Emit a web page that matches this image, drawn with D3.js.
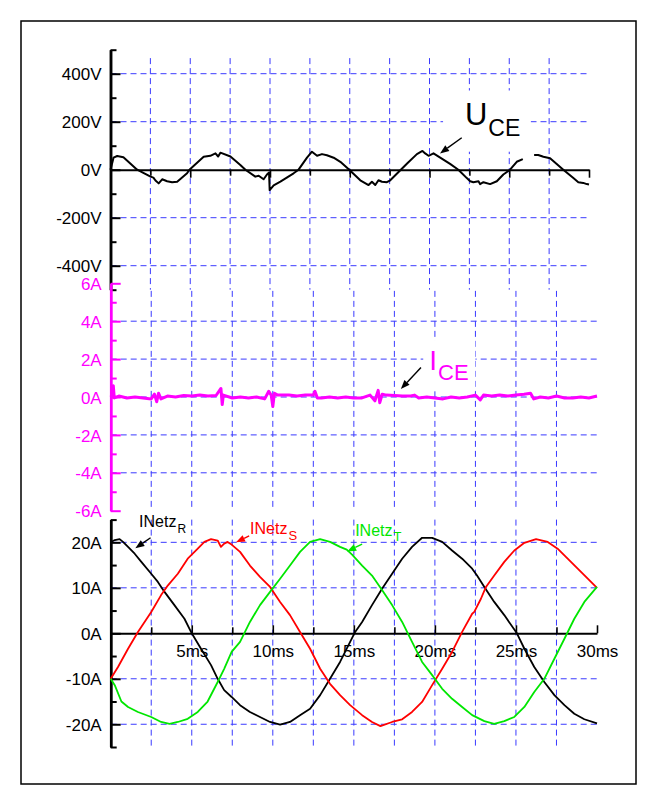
<!DOCTYPE html>
<html>
<head>
<meta charset="utf-8">
<script src="https://cdn.jsdelivr.net/npm/d3@7"></script>
<style>
  body { margin: 0; background: #fff; }
  svg { display: block; }
  text { font-family: "Liberation Sans", Arial, Helvetica, sans-serif; }
</style>
</head>
<body>
<svg id="chart" width="656" height="806"></svg>
<script>
// ---- Data -------------------------------------------------------------
// Grid / tick positions along the time axis (ms)
const gridTimes = [2.5, 5, 7.5, 10, 12.5, 15, 17.5, 20, 22.5, 25, 27.5];
const timeTicks = [0, 2.5, 5, 7.5, 10, 12.5, 15, 17.5, 20, 22.5, 25, 27.5, 30];
const timeLabels = [5, 10, 15, 20, 25, 30];

// Collector-emitter voltage U_CE: time (ms) and value (V); null = gap in trace
const uceTime = [0.0, 0.19, 0.42, 0.81, 1.67, 2.51, 2.69, 2.82, 3.02, 3.24, 3.55, 3.86, 4.18, 4.80, 4.95,
  5.84, 6.26, 6.58, 6.75, 6.89, 7.52, 8.14, 8.46, 9.08, 9.29, 9.60, 9.81, 9.94, 9.98, 10.23, 10.65,
  11.48, 11.79, 12.32, 12.63, 12.95, 13.26, 13.57, 13.99, 14.41, 14.97, 15.66, 16.18, 16.39, 16.60,
  16.80, 17.02, 17.33, 17.54, 18.58, 19.21, 19.56, 19.73, 19.94, 20.25, 21.29, 21.81, 22.34, 22.55,
  22.75, 23.07, 23.17, 23.38, 23.80, 24.22, 24.63, 25.05, 25.47, 25.85, 26.2, 26.56, 26.82, 27.14,
  27.56, 28.39, 29.02, 29.33, 29.64, 29.86, 30.0];
const uceVolt = [0, 50, 57, 52, 0, -29, -33, -45, -57, -40, -48, -52, -50, -15, 0,
  54, 58, 68, 55, 71, 55, 20, 0, -29, -25, -40, -20, -12, -85, -65, -50,
  -15, 0, 50, 75, 58, 65, 60, 50, 33, 0, -44, -64, -50, -64,
  -44, -50, -52, -44, 25, 65, 78, 68, 58, 68, 24, 0, -35, -48,
  -52, -48, -60, -52, -60, -48, -20, 0, 33, 44, null, 61, 61, 54,
  48, 0, -35, -52, -55, -60, -62];

// Collector-emitter current I_CE: time (ms) and value (A)
const iceTime = [0, 0.1, 0.16, 0.22, 0.5, 1.0, 1.5, 2.0, 2.5, 2.7, 2.84, 2.95, 3.1, 3.5, 4.0, 4.5, 5.0,
  5.5, 6.0, 6.5, 6.8, 6.88, 6.95, 7.5, 8.0, 8.5, 9.0, 9.5, 9.75, 9.9, 10.0, 10.1, 10.3, 11, 11.5, 12,
  12.5, 12.6, 12.75, 13.0, 13.5, 14, 14.5, 15.0, 15.5, 16.0, 16.3, 16.5, 16.6, 16.75, 17.0, 17.5, 18,
  18.5, 18.75, 19.0, 19.5, 20, 20.5, 21, 21.5, 22, 22.5, 22.8, 23.0, 23.5, 24, 24.5, 25, 25.5, 25.9,
  26.1, 26.5, 27, 27.5, 28, 28.5, 29, 29.5, 30];
const iceAmp = [0.1, 0.0, 0.6, -0.05, 0.05, -0.05, 0.0, -0.05, -0.1, 0.15, -0.25, 0.2, -0.1, 0.05, 0.0, 0.08, 0.05,
  0.1, 0.05, 0.08, 0.45, -0.4, 0.1, -0.05, 0.0, -0.05, 0.0, -0.1, 0.3, 0.1, -0.5, 0.2, 0.1, 0.1, 0.05, 0.1,
  0.1, 0.3, -0.05, -0.05, 0.0, -0.05, 0.0, -0.05, -0.05, 0.1, -0.2, 0.35, -0.3, 0.15, 0.1, 0.08, 0.05,
  0.05, 0.1, -0.05, 0.0, -0.05, -0.1, 0.0, -0.05, 0.0, 0.1, -0.15, 0.1, 0.05, 0.1, 0.05, 0.1, 0.15, 0.2,
  -0.1, 0.0, -0.05, 0.05, -0.05, -0.05, 0.0, -0.05, 0.05];

// Mains phase currents INetz R / S / T: [time (ms), current (A)]
const netzR = [[0,20.0],[0.25,20.5],[0.55,20.7],[0.76,20.1],[1.07,19.0],[1.48,17.5],[1.89,15.7],[2.5,13.1],
  [2.91,11.3],[3.32,9.1],[3.93,6.2],[4.55,3.2],[5.0,0],[5.57,-3.4],[6.19,-7.0],[6.6,-10],[7.0,-12.5],
  [7.46,-14],[7.98,-15.8],[8.59,-17.3],[9.21,-18.4],[9.83,-19.5],[10.45,-20.1],[11.06,-19.5],[11.68,-18.0],
  [12.3,-16.6],[12.92,-13.6],[13.53,-10],[14.15,-6.3],[14.77,-1.9],[15.08,0.3],[15.51,2.5],[16.12,6.2],
  [16.74,9.8],[17.36,13.1],[17.98,16.4],[18.59,19.0],[19.21,21.0],[19.83,21.0],[20.45,20.1],[21.06,18.2],
  [21.68,16.4],[22.3,14.2],[22.6,12.7],[23.05,10.2],[23.66,6.9],[24.28,4.0],[25.06,0],[25.52,-3.4],
  [26.13,-7.4],[26.75,-10.7],[27.37,-13.6],[27.99,-15.8],[28.6,-17.7],[29.22,-18.9],[30,-19.8]];
const netzS = [[0,-10],[0.45,-7.4],[1.07,-3.4],[1.68,0.3],[2.5,4.7],[3.11,8.4],[3.52,10.5],[4.14,13.1],
  [4.75,16.4],[5.37,18.6],[5.78,20.1],[6.19,20.7],[6.6,20.4],[6.8,19.0],[7.0,19.7],[7.21,20.1],[7.46,19.5],
  [7.98,17.9],[8.59,14.9],[9.21,12.4],[9.83,10.2],[10.45,6.9],[11.06,4.0],[11.68,0.3],[12.3,-3.4],
  [12.92,-7.8],[13.53,-11.1],[14.15,-13.6],[14.77,-15.8],[15.51,-18.0],[16.12,-19.5],[16.64,-20.4],
  [17.36,-19.5],[17.98,-18.9],[18.59,-17.3],[19.21,-15.1],[19.83,-11.4],[20.45,-7.8],[21.06,-4.1],
  [21.68,0.3],[22.3,4.3],[22.43,4.7],[22.84,7.6],[23.15,10.2],[23.66,12.7],[24.28,15.7],[24.9,18.2],
  [25.52,19.9],[26.24,20.7],[26.96,20.1],[27.57,18.6],[28.19,16.4],[28.81,14.2],[29.43,12.0],[30,10.0]];
const netzT = [[0,-10],[0.25,-11.4],[0.66,-15],[1.07,-16.2],[1.68,-17.3],[2.5,-18.4],[3.11,-19.5],
  [3.63,-19.9],[4.14,-19.5],[4.75,-18.8],[5.37,-17.3],[5.98,-15],[6.6,-10.7],[7.0,-7.8],[7.46,-4.1],
  [7.98,-1.9],[8.59,2.5],[9.21,6.2],[9.83,9.1],[10.45,12.0],[11.06,14.9],[11.68,17.9],[12.3,20.1],
  [12.92,20.7],[13.53,20.1],[14.15,19.0],[14.56,18.4],[14.89,17.3],[15.51,14.9],[16.12,12.7],[16.74,9.5],
  [17.36,6.2],[17.98,2.5],[18.59,-1.9],[19.21,-6.3],[19.83,-9.2],[20.45,-12.2],[21.06,-14.4],[21.68,-16.2],
  [22.3,-18],[23.05,-19.3],[23.66,-19.9],[24.28,-19.3],[24.9,-18.4],[25.52,-16.2],[26.13,-12.9],
  [26.75,-10],[27.37,-5.6],[27.99,-1.2],[28.6,3.2],[29.22,6.9],[30,10.2]];

// Axis tick values
const uMajor = [-400, -200, 0, 200, 400];
const uMinor = [-500, -300, -100, 100, 300, 500];
const iMajor = [-6, -4, -2, 0, 2, 4, 6];
const iMinor = [-5, -3, -1, 1, 3, 5];
const nMajor = [-20, -10, 0, 10, 20];
const nMinor = [-25, -15, -5, 5, 15, 25];

// ---- Layout ----------------------------------------------------------
const svg = d3.select("#chart");
const GRID = "#3a3aff";
const MAGENTA = "#ff00ff";
const RED = "#ff0000";
const GREEN = "#00e600";

svg.append("rect")
  .attr("x", 21).attr("y", 21).attr("width", 615).attr("height", 763)
  .attr("fill", "#fff").attr("stroke", "#000").attr("stroke-width", 1.5);

const xTop = d3.scaleLinear().domain([0, 30]).range([110.5, 589]);
const xLow = d3.scaleLinear().domain([0, 30]).range([110.7, 597]);
const yU = d3.scaleLinear().domain([-500, 500]).range([289.7, 49.7]);
const yI = d3.scaleLinear().domain([-6, 6]).range([510.7, 283.3]);
const yN = d3.scaleLinear().domain([-25, 25]).range([747, 519.6]);

// ---- Grids -----------------------------------------------------------
function grid(x, y, hVals, yTop, yBot) {
  const g = svg.append("g")
    .attr("stroke", GRID).attr("stroke-width", 1).attr("stroke-dasharray", "6,4").attr("fill", "none");
  g.selectAll("line.v").data(gridTimes).join("line").attr("class", "v")
    .attr("x1", d => x(d)).attr("x2", d => x(d))
    .attr("y1", y(yTop)).attr("y2", y(yBot));
  g.selectAll("line.h").data(hVals).join("line").attr("class", "h")
    .attr("x1", x(0)).attr("x2", x(30))
    .attr("y1", d => y(d)).attr("y2", d => y(d));
}
grid(xTop, yU, [-400, -200, 200, 400], 465, -500);
grid(xLow, yI, [-4, -2, 0, 2, 4], 5.6, -6);
grid(xLow, yN, [-20, -10, 10, 20], 25, -25);

// ---- Label backgrounds that interrupt the grid ------------------------
svg.append("rect").attr("fill", "#fff")
  .attr("x", xTop(20.85)).attr("y", yU(330))
  .attr("width", xTop(26.35) - xTop(20.85)).attr("height", yU(75) - yU(330));
svg.append("rect").attr("fill", "#fff")
  .attr("x", xLow(19.28)).attr("y", yI(3.0))
  .attr("width", xLow(22.5) - xLow(19.28)).attr("height", yI(0.3) - yI(3.0));

// ---- Axes ------------------------------------------------------------
function styleAxis(sel, color, size) {
  sel.select(".domain").attr("stroke", color).attr("stroke-width", 2.5);
  sel.selectAll(".tick line").attr("stroke", color).attr("stroke-width", 2);
  sel.selectAll(".tick text").attr("fill", color).attr("font-size", size)
    .attr("font-family", '"Liberation Sans", Arial, sans-serif');
}
function yAxis(y, x0, major, minor, fmt, color) {
  const gMin = svg.append("g").attr("transform", `translate(${x0},0)`)
    .call(d3.axisLeft(y).tickValues(minor).tickSize(-6).tickSizeOuter(0).tickFormat(""));
  styleAxis(gMin, color, 17);
  const gMaj = svg.append("g").attr("transform", `translate(${x0},0)`)
    .call(d3.axisLeft(y).tickValues(major).tickSize(-10).tickSizeOuter(0).tickPadding(9).tickFormat(fmt));
  styleAxis(gMaj, color, 17);
  gMaj.selectAll(".tick text").attr("dy", "0.36em");
}
yAxis(yU, 110.5, uMajor, uMinor, d => d + "V", "#000");
yAxis(yI, 110.7, iMajor, iMinor, d => d + "A", MAGENTA);
yAxis(yN, 110.7, nMajor, nMinor, d => d + "A", "#000");

// zero-line time axes
const tTop = svg.append("g").attr("transform", `translate(0,${yU(0)})`)
  .call(d3.axisBottom(xTop).tickValues(timeTicks).tickSize(8).tickSizeOuter(0).tickFormat(""));
tTop.select(".domain").attr("stroke", "#000").attr("stroke-width", 2);
tTop.selectAll(".tick line").attr("stroke", "#000").attr("stroke-width", 1.6)
  .attr("y2", d => (d % 5 === 0 ? 8 : 6));
tTop.selectAll(".tick").filter(d => d === 0).remove();

const tLow = svg.append("g").attr("transform", `translate(0,${yN(0)})`)
  .call(d3.axisBottom(xLow).tickValues(timeTicks).tickSize(-8).tickSizeOuter(0).tickPadding(12)
    .tickFormat(d => (timeLabels.includes(d) ? d + "ms" : "")));
tLow.select(".domain").attr("stroke", "#000").attr("stroke-width", 2);
tLow.selectAll(".tick line").attr("stroke", "#000").attr("stroke-width", 1.6)
  .attr("y2", d => (d % 5 === 0 ? -8 : -6));
tLow.selectAll(".tick text").attr("fill", "#000").attr("font-size", 17)
  .attr("font-family", '"Liberation Sans", Arial, sans-serif');
tLow.selectAll(".tick").filter(d => d === 0).select("line").remove();

// ---- Traces ----------------------------------------------------------
const uceData = uceTime.map((t, i) => [t, uceVolt[i]]);
svg.append("path").datum(uceData)
  .attr("fill", "none").attr("stroke", "#000").attr("stroke-width", 2).attr("stroke-linejoin", "round")
  .attr("d", d3.line().defined(d => d[1] !== null).x(d => xTop(d[0])).y(d => yU(d[1])));

const iceData = iceTime.map((t, i) => [t, iceAmp[i]]);
svg.append("path").datum(iceData)
  .attr("fill", "none").attr("stroke", MAGENTA).attr("stroke-width", 3).attr("stroke-linejoin", "round")
  .attr("d", d3.line().x(d => xLow(d[0])).y(d => yI(d[1])));

const netzLine = d3.line().x(d => xLow(d[0])).y(d => yN(d[1]));
[[netzR, "#000"], [netzS, RED], [netzT, GREEN]].forEach(([data, color]) => {
  svg.append("path").datum(data)
    .attr("fill", "none").attr("stroke", color).attr("stroke-width", 1.8).attr("stroke-linejoin", "round")
    .attr("d", netzLine);
});

// ---- Annotations -----------------------------------------------------
function arrow(x, y, from, to, color) {
  const x1 = x(from[0]), y1 = y(from[1]), x2 = x(to[0]), y2 = y(to[1]);
  const ang = Math.atan2(y2 - y1, x2 - x1);
  const len = 9, half = 3.5;
  const bx = x2 - len * Math.cos(ang), by = y2 - len * Math.sin(ang);
  svg.append("line").attr("x1", x1).attr("y1", y1).attr("x2", bx).attr("y2", by)
    .attr("stroke", color).attr("stroke-width", 1.4);
  const p = [[x2, y2],
    [bx + half * Math.sin(ang), by - half * Math.cos(ang)],
    [bx - half * Math.sin(ang), by + half * Math.cos(ang)]];
  svg.append("polygon").attr("points", p.map(q => q.join(",")).join(" ")).attr("fill", color);
}
function label(x, y, pos, main, sub, color, size, subSize, subDy) {
  const t = svg.append("text").attr("x", x(pos[0])).attr("y", y(pos[1]))
    .attr("fill", color).attr("font-size", size);
  t.append("tspan").text(main);
  t.append("tspan").attr("font-size", subSize).attr("dy", subDy).attr("dx", 1).text(sub);
}

// U_CE
label(xTop, yU, [22.22, 186], "U", "CE", "#000", 31, 23, 11);
arrow(xTop, yU, [22.02, 133], [20.66, 68], "#000");

// I_CE
label(xLow, yI, [19.65, 1.42], "I", "CE", MAGENTA, 28, 22, 10);
arrow(xLow, yI, [19.14, 1.56], [17.9, 0.42], "#000");

// INetz R / S / T
label(xLow, yN, [1.75, 23.4], "INetz", "R", "#000", 16, 12, 6);
arrow(xLow, yN, [2.46, 21.0], [1.52, 18.7], "#000");
label(xLow, yN, [8.6, 21.8], "INetz", "S", RED, 16, 13, 6);
arrow(xLow, yN, [8.54, 21.4], [7.73, 20.0], RED);
label(xLow, yN, [15.08, 21.5], "INetz", "T", GREEN, 16, 13, 5);
arrow(xLow, yN, [15.51, 19.6], [14.59, 18.0], GREEN);
</script>
</body>
</html>
